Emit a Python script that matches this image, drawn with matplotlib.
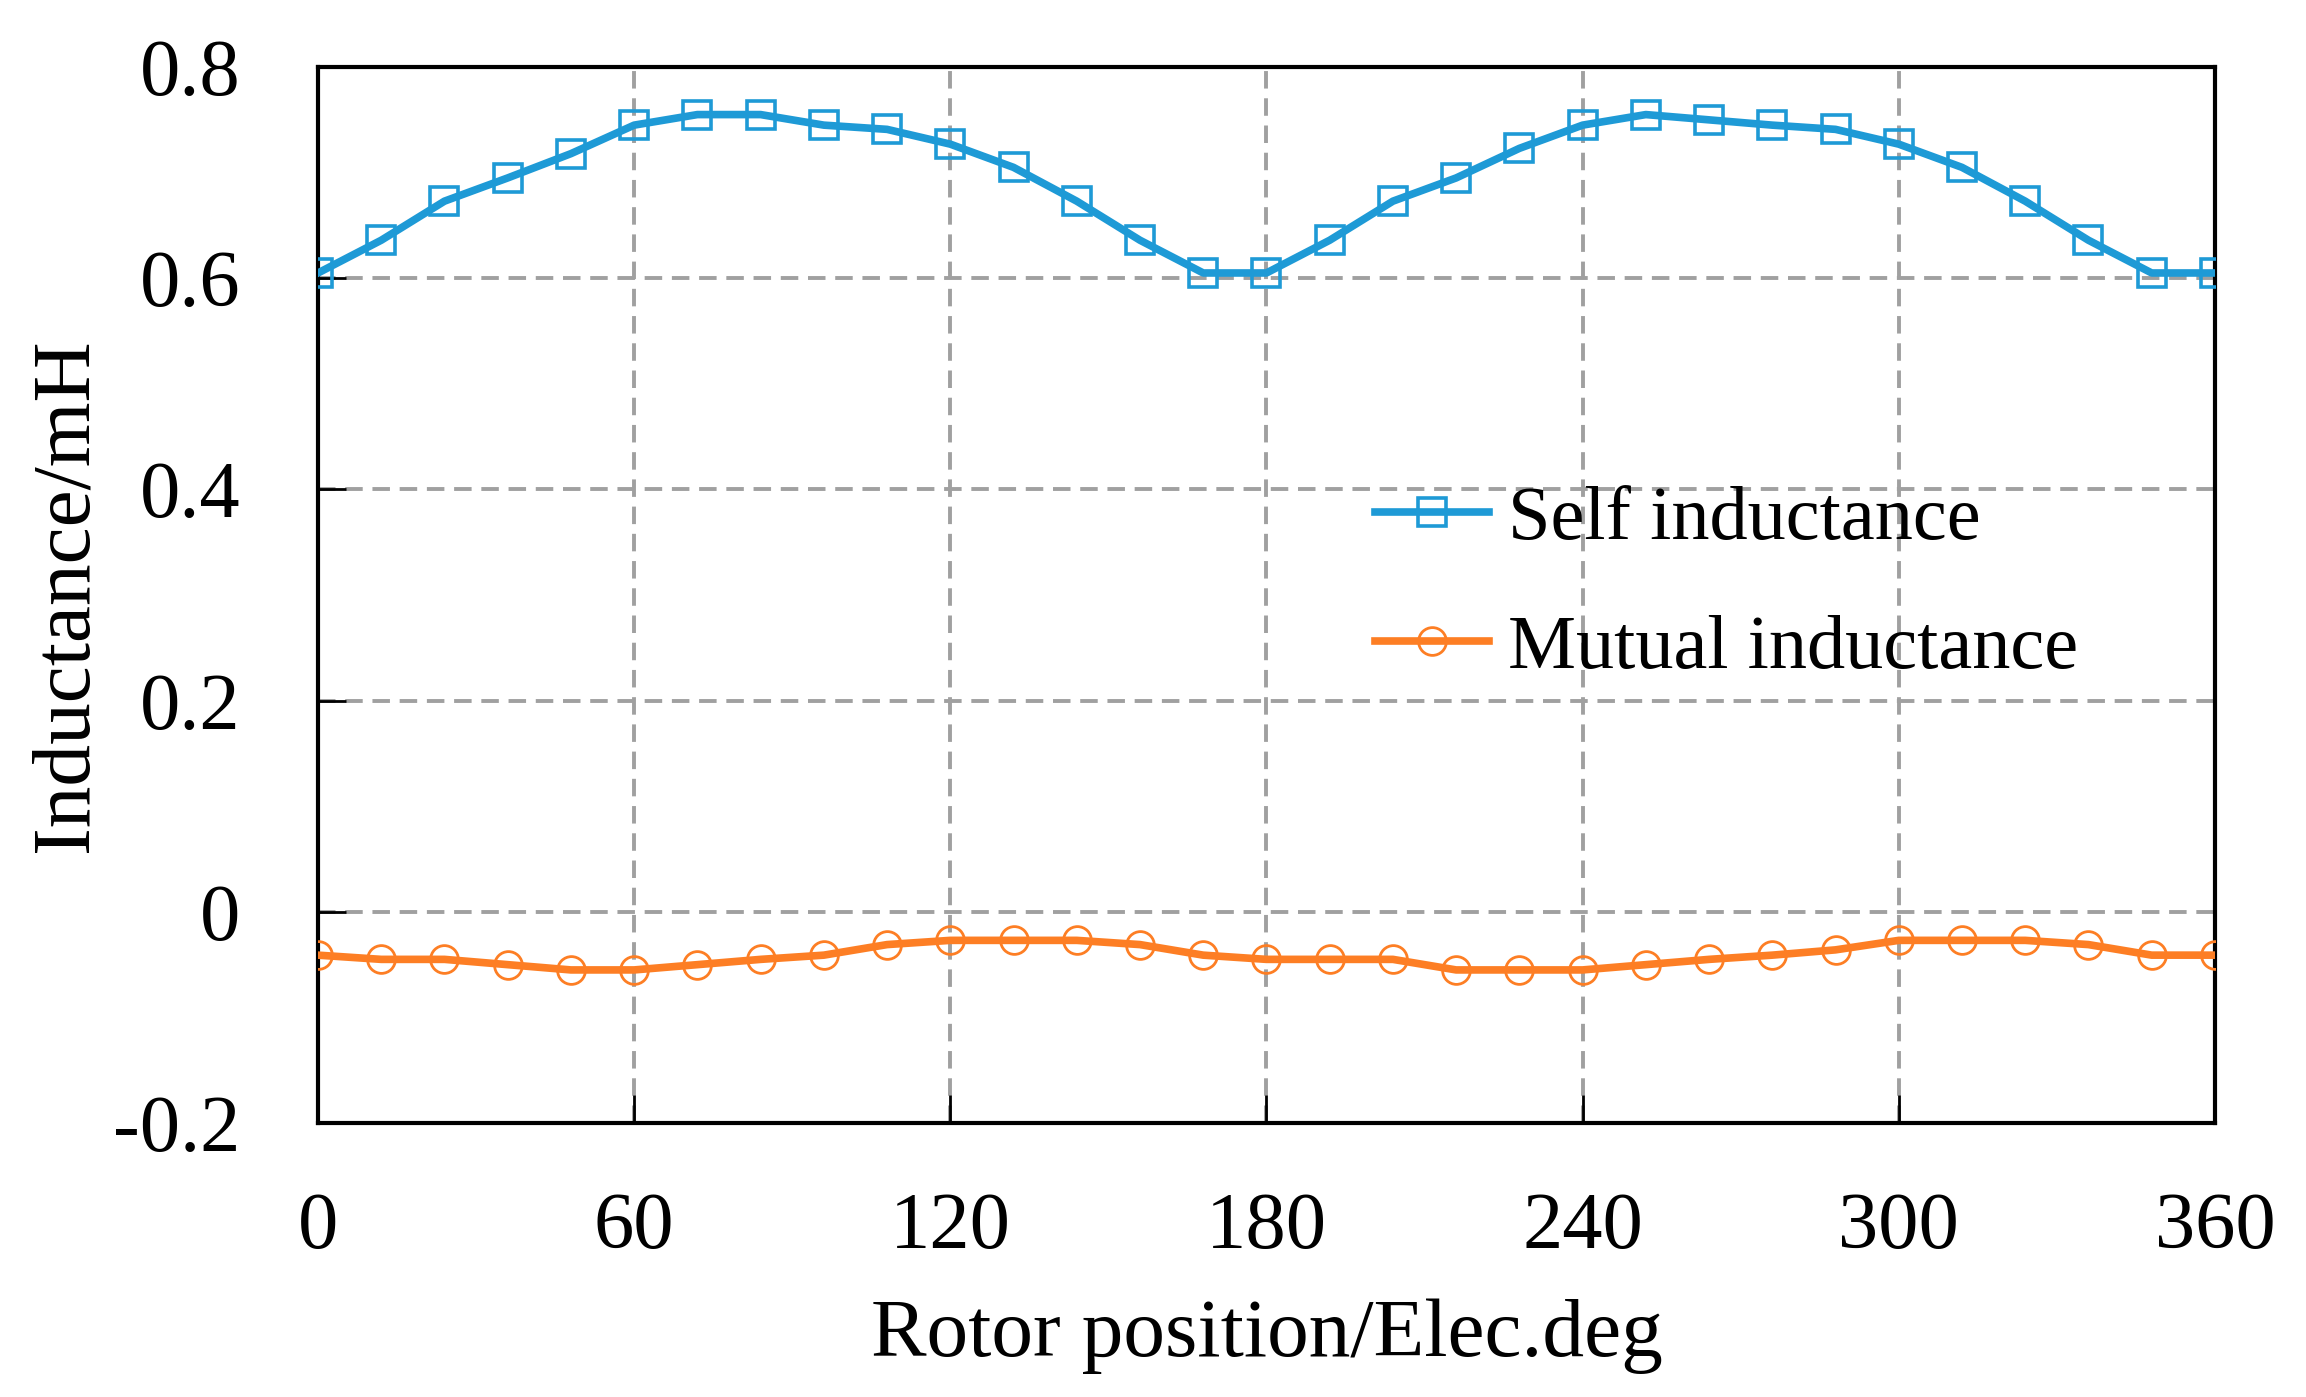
import numpy as np
import matplotlib.pyplot as plt

plt.rcParams['font.family'] = ['Liberation Serif', 'DejaVu Serif']
plt.rcParams['axes.unicode_minus'] = False

# rotor position in electrical degrees (one point every 12 deg)
position = list(range(0, 361, 12))

# self inductance (mH)
self_ind = [0.605, 0.636, 0.673, 0.695, 0.718, 0.745, 0.755, 0.755, 0.745, 0.741,
            0.727, 0.705, 0.673, 0.636, 0.605, 0.605, 0.636, 0.673, 0.695, 0.723,
            0.745, 0.755, 0.750, 0.745, 0.741, 0.727, 0.705, 0.673, 0.636, 0.605,
            0.605]

# mutual inductance (mH)
mutual_ind = [-0.041, -0.045, -0.045, -0.050, -0.055, -0.055, -0.050, -0.045, -0.041, -0.031,
              -0.027, -0.027, -0.027, -0.031, -0.041, -0.045, -0.045, -0.045, -0.055, -0.055,
              -0.055, -0.050, -0.045, -0.041, -0.036, -0.027, -0.027, -0.027, -0.031, -0.041,
              -0.041]

x_ticks = [0, 60, 120, 180, 240, 300, 360]
y_ticks = [-0.2, 0, 0.2, 0.4, 0.6, 0.8]
y_tick_labels = ['-0.2', '0', '0.2', '0.4', '0.6', '0.8']

blue = '#1e9ad6'
orange = '#fd7e24'

fig = plt.figure(figsize=(23.06, 13.97), dpi=100)
ax = fig.add_axes([0.1379, 0.1961, 0.8226, 0.7559])

ax.plot(position, self_ind, color=blue, lw=5.5, marker='s', ms=20,
        mfc='none', mec=blue, mew=2.6, label='Self inductance', zorder=3)
ax.plot(position, mutual_ind, color=orange, lw=5.5, marker='o', ms=20,
        mfc='none', mec=orange, mew=2.0, label='Mutual inductance', zorder=3)

ax.set_xlim(0, 360)
ax.set_ylim(-0.2, 0.8)
ax.set_xticks(x_ticks)
ax.set_yticks(y_ticks)
ax.set_yticklabels(y_tick_labels)

ax.grid(True, color='#a0a0a0', lw=2.8, linestyle=(0, (4.5, 2.5)))
ax.set_axisbelow(True)

for s in ax.spines.values():
    s.set_linewidth(3)
    s.set_color('black')

ax.tick_params(axis='both', direction='in', length=20, width=2, labelsize=58)
ax.tick_params(axis='x', pad=50)
ax.tick_params(axis='y', pad=56)

ax.set_xlabel('Rotor position/Elec.deg', fontsize=60, labelpad=24)
ax.set_ylabel('Inductance/mH', fontsize=60, labelpad=6)

ax.legend(loc='center left', bbox_to_anchor=(0.557, 0.51), frameon=False,
          fontsize=55, handlelength=1.5, handletextpad=0.25, labelspacing=0.78,
          borderpad=0, borderaxespad=0)

fig.savefig('out.png', dpi=100)
